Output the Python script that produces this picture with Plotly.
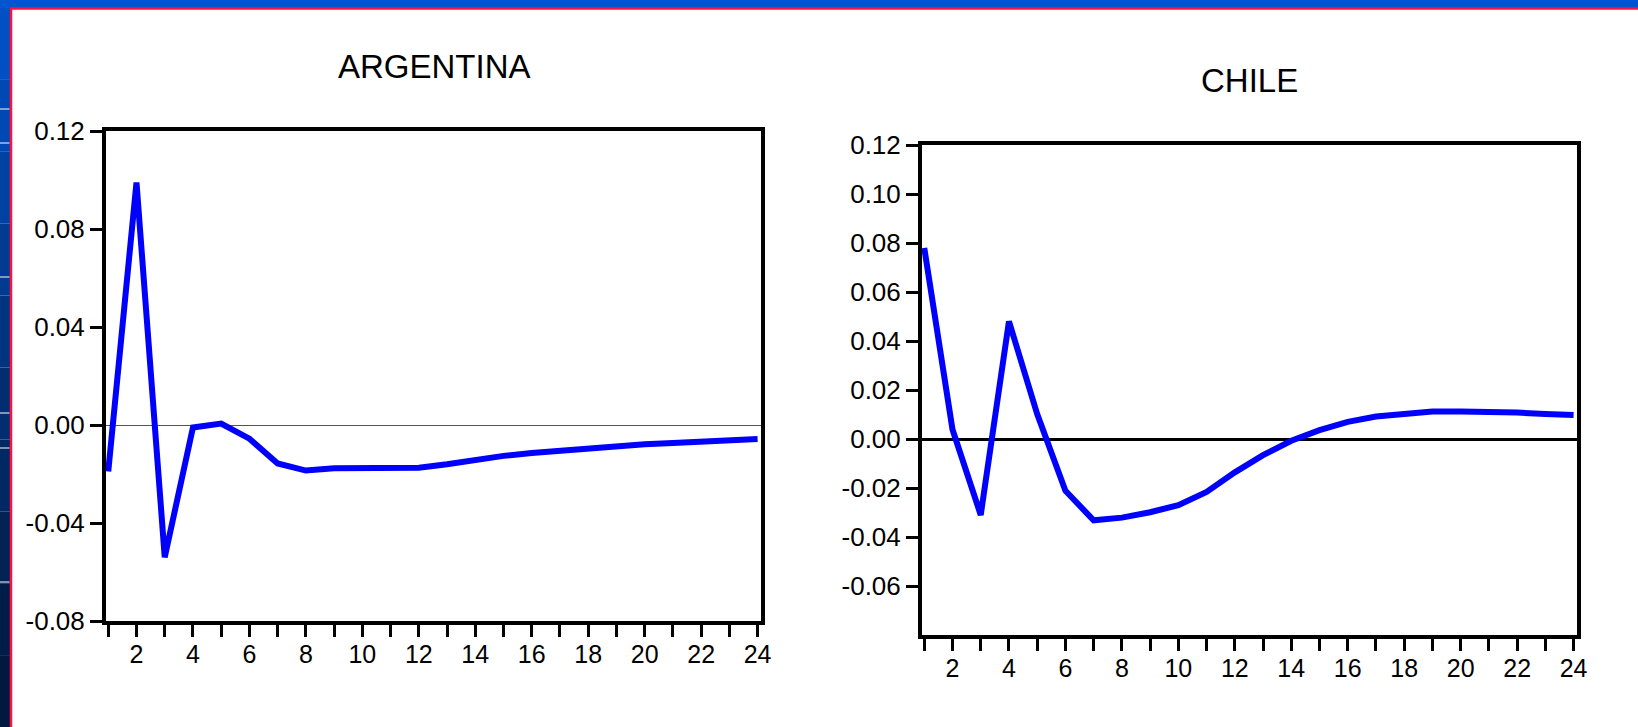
import plotly.graph_objects as go

# Impulse responses over 24 periods
periods = list(range(1, 25))

argentina = [-0.019, 0.099, -0.054, -0.001, 0.0006, -0.0056, -0.0157, -0.0186,
             -0.0177, -0.0177, -0.0178, -0.0174, -0.0160, -0.0142, -0.0126, -0.0114,
             -0.0104, -0.0095, -0.0085, -0.0079, -0.0073, -0.0066, -0.0061, -0.0057]

chile = [0.0780, 0.0039, -0.0310, 0.0480, 0.0102, -0.0211, -0.0332, -0.0321,
         -0.0299, -0.0270, -0.0216, -0.0136, -0.0066, -0.0007, 0.0036, 0.0070,
         0.0092, 0.0105, 0.0112, 0.0112, 0.0112, 0.0108, 0.0102, 0.0098]

x_tick_vals = periods
x_tick_text = [str(p) if p % 2 == 0 else "" for p in periods]

arg_y_ticks = [0.12, 0.08, 0.04, 0.00, -0.04, -0.08]
arg_y_text = ["0.12", "0.08", "0.04", "0.00", "-0.04", "-0.08"]

chl_y_ticks = [0.12, 0.10, 0.08, 0.06, 0.04, 0.02, 0.00, -0.02, -0.04, -0.06]
chl_y_text = ["0.12", "0.10", "0.08", "0.06", "0.04", "0.02", "0.00", "-0.02", "-0.04", "-0.06"]

titles = ["ARGENTINA", "CHILE"]

W, H = 1638, 727
FONT = "Liberation Sans, Arial, sans-serif"


def px_x(v):
    return v / W


def px_y(v):
    return 1 - v / H


fig = go.Figure()
fig.add_trace(go.Scatter(x=periods, y=argentina, mode="lines",
                         line=dict(color="#0000FF", width=6),
                         xaxis="x", yaxis="y", showlegend=False))
fig.add_trace(go.Scatter(x=periods, y=chile, mode="lines",
                         line=dict(color="#0000FF", width=6),
                         xaxis="x2", yaxis="y2", showlegend=False))

axis_common = dict(showline=True, linewidth=4, linecolor="black", mirror=True,
                   ticks="outside", ticklen=12, tickwidth=3, tickcolor="black",
                   showgrid=False, automargin=False)
x_font = dict(family=FONT, size=25, color="black")
y_font = dict(family=FONT, size=26, color="black")

x_range = [0.92, 24.12]

fig.update_layout(
    width=W, height=H,
    margin=dict(l=0, r=0, t=0, b=0, autoexpand=False),
    paper_bgcolor="white", plot_bgcolor="white",
    xaxis=dict(domain=[px_x(106), px_x(761)], range=x_range,
               tickmode="array", tickvals=x_tick_vals, ticktext=x_tick_text,
               ticklabelstandoff=-4,
               zeroline=False, anchor="y", tickfont=x_font, **axis_common),
    yaxis=dict(domain=[px_y(621), px_y(131)], range=[-0.08, 0.12],
               tickmode="array", tickvals=arg_y_ticks, ticktext=arg_y_text,
               zeroline=True, zerolinecolor="#555555", zerolinewidth=1.2,
               anchor="x", tickfont=y_font, **axis_common),
    xaxis2=dict(domain=[px_x(922), px_x(1577)], range=x_range,
                tickmode="array", tickvals=x_tick_vals, ticktext=x_tick_text,
                ticklabelstandoff=-4,
                zeroline=False, anchor="y2", tickfont=x_font, **axis_common),
    yaxis2=dict(domain=[px_y(635), px_y(145)], range=[-0.08, 0.12],
                tickmode="array", tickvals=chl_y_ticks, ticktext=chl_y_text,
                zeroline=True, zerolinecolor="black", zerolinewidth=3,
                anchor="x2", tickfont=y_font, **axis_common),
)

# Panel titles
fig.add_annotation(x=px_x(434), y=px_y(67), xref="paper", yref="paper",
                   xanchor="center", yanchor="middle",
                   text=titles[0], showarrow=False,
                   font=dict(family=FONT, size=33, color="black"))
fig.add_annotation(x=px_x(1249), y=px_y(81), xref="paper", yref="paper",
                   xanchor="center", yanchor="middle",
                   text=titles[1], showarrow=False,
                   font=dict(family=FONT, size=33, color="black"))

# Slide frame: blue band along the top and left edges with a red inner rule
shapes = []
shapes.append(dict(type="rect", xref="paper", yref="paper",
                   x0=0, x1=1, y0=px_y(8), y1=1,
                   fillcolor="#0056CF", line=dict(width=0), layer="above"))
band_colors = ["#0050C4", "#0049B4", "#0042A2", "#003B90", "#00347F",
               "#002E70", "#002862", "#002255", "#001D49", "#00183E"]
n = len(band_colors)
for i, c in enumerate(band_colors):
    shapes.append(dict(type="rect", xref="paper", yref="paper",
                       x0=0, x1=px_x(10),
                       y0=px_y(8 + (H - 8) * (i + 1) / n), y1=px_y(8 + (H - 8) * i / n),
                       fillcolor=c, line=dict(width=0), layer="above"))
shapes.append(dict(type="line", xref="paper", yref="paper",
                   x0=px_x(10), x1=1, y0=px_y(8.5), y1=px_y(8.5),
                   line=dict(color="#FF1040", width=2.5), layer="above"))
shapes.append(dict(type="line", xref="paper", yref="paper",
                   x0=px_x(11), x1=px_x(11), y0=0, y1=px_y(8),
                   line=dict(color="#FF1040", width=2.5), layer="above"))
for yy in [109, 143, 277, 413, 448, 582]:
    shapes.append(dict(type="line", xref="paper", yref="paper",
                       x0=0, x1=px_x(9.5), y0=px_y(yy), y1=px_y(yy),
                       line=dict(color="white", width=1), layer="above"))
fig.update_layout(shapes=shapes)

fig.write_html("out.html")
